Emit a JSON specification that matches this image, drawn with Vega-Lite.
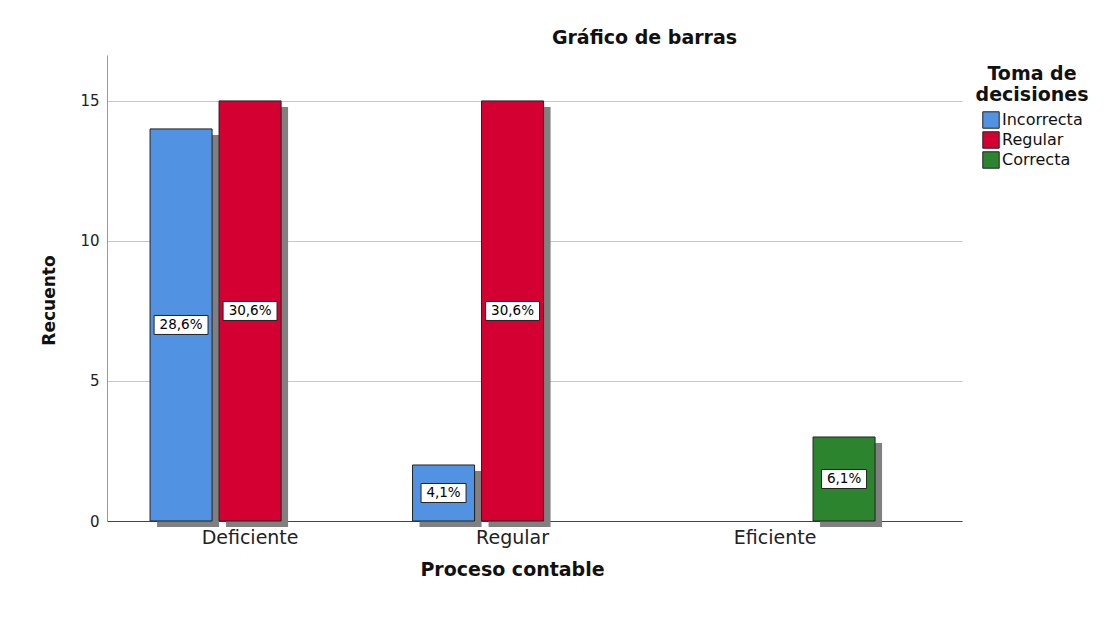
{
  "$schema": "https://vega.github.io/schema/vega-lite/v6.json",
  "width": 855,
  "height": 466,
  "autosize": "none",
  "padding": {"left": 107, "top": 55, "right": 157, "bottom": 105},
  "background": "white",
  "config": {"font": "DejaVu Sans", "view": {"stroke": null}},
  "title": {"text": "Gráfico de barras", "fontSize": 19, "fontWeight": "bold", "color": "#111", "anchor": "middle", "dx": 110, "offset": 7},
  "data": {"values": [
    {"proceso": "Deficiente", "toma": "Incorrecta", "recuento": 14, "pct": "28,6%"},
    {"proceso": "Deficiente", "toma": "Regular", "recuento": 15, "pct": "30,6%"},
    {"proceso": "Regular", "toma": "Incorrecta", "recuento": 2, "pct": "4,1%"},
    {"proceso": "Regular", "toma": "Regular", "recuento": 15, "pct": "30,6%"},
    {"proceso": "Eficiente", "toma": "Correcta", "recuento": 3, "pct": "6,1%"}
  ]},
  "encoding": {
    "x": {
      "field": "proceso", "type": "nominal", "sort": ["Deficiente", "Regular", "Eficiente"],
      "scale": {"paddingInner": 0, "paddingOuter": 0.1286, "align": 0.175},
      "axis": {
        "title": "Proceso contable", "titleFontSize": 19, "titleFontWeight": "bold", "titleColor": "#111", "titlePadding": 13,
        "titleX": 405, "titleAlign": "center",
        "labelFontSize": 19, "labelColor": "#222", "labelPadding": 7, "labelAngle": 0,
        "ticks": false, "domainColor": "#444", "domainWidth": 1
      }
    }
  },
  "resolve": {"scale": {"xOffset": "independent", "y": "independent"}, "axis": {"y": "independent"}},
  "layer": [
    {
      "mark": {"type": "bar", "color": "#808080", "yOffset": 6, "y2Offset": 6},
      "encoding": {
        "xOffset": {"field": "toma", "type": "nominal", "scale": {"domain": ["Incorrecta", "Regular", "Correcta"], "range": [7, 269.5], "paddingInner": 0.101, "paddingOuter": 0.4527}},
        "y": {"field": "recuento", "type": "quantitative", "scale": {"domain": [0, 16.64], "nice": false}, "axis": null}
      }
    },
    {
      "mark": {"type": "bar", "stroke": "#222", "strokeWidth": 1},
      "encoding": {
        "xOffset": {"field": "toma", "type": "nominal", "scale": {"domain": ["Incorrecta", "Regular", "Correcta"], "range": [0, 262.5], "paddingInner": 0.101, "paddingOuter": 0.4527}},
        "y": {
          "field": "recuento", "type": "quantitative", "scale": {"domain": [0, 16.64], "nice": false},
          "axis": {
            "title": "Recuento", "titleFontSize": 17, "titleFontWeight": "bold", "titleColor": "#111", "titlePadding": 21,
            "titleY": 245, "titleAlign": "center",
            "values": [0, 5, 10, 15], "labelFontSize": 15, "labelColor": "#222", "labelPadding": 8,
            "ticks": false, "domainColor": "#999", "grid": true, "gridColor": "#c8c8c8"
          }
        },
        "color": {
          "field": "toma", "type": "nominal",
          "scale": {"domain": ["Incorrecta", "Regular", "Correcta"], "range": ["#5193E2", "#D50032", "#2C852E"]},
          "legend": {
            "orient": "none", "legendX": 869, "legendY": 10,
            "title": ["Toma de", "decisiones"], "titleFontSize": 19, "titleFontWeight": "bold", "titleColor": "#111",
            "titleAlign": "center", "titleAnchor": "middle", "titleLineHeight": 21, "titleLimit": 300, "titlePadding": 6,
            "labelFontSize": 16, "labelColor": "#111", "labelOffset": 2,
            "symbolType": "square", "symbolSize": 270, "symbolStrokeColor": "#222", "symbolStrokeWidth": 1, "symbolOpacity": 1,
            "clipHeight": 18, "rowPadding": 2
          }
        }
      }
    },
    {
      "mark": {"type": "point", "filled": true, "fill": "white", "stroke": "#222", "strokeWidth": 1, "opacity": 1, "size": 361},
      "encoding": {
        "xOffset": {"field": "toma", "type": "nominal", "scale": {"type": "point", "domain": ["Incorrecta", "Regular", "Correcta"], "range": [0, 262.5], "padding": 0.902}},
        "y": {"field": "recuento", "type": "quantitative", "scale": {"domain": [0, 33.28], "nice": false}, "axis": null},
        "shape": {"condition": {"test": "length(datum.pct) > 4", "value": "M-2.84,-1H2.84V1H-2.84Z"}, "value": "M-2.37,-1H2.37V1H-2.37Z"}
      }
    },
    {
      "mark": {"type": "text", "fontSize": 13.5, "color": "#000", "align": "center", "baseline": "middle"},
      "encoding": {
        "xOffset": {"field": "toma", "type": "nominal", "scale": {"type": "point", "domain": ["Incorrecta", "Regular", "Correcta"], "range": [0, 262.5], "padding": 0.902}},
        "y": {"field": "recuento", "type": "quantitative", "scale": {"domain": [0, 33.28], "nice": false}, "axis": null},
        "text": {"field": "pct"}
      }
    }
  ]
}
